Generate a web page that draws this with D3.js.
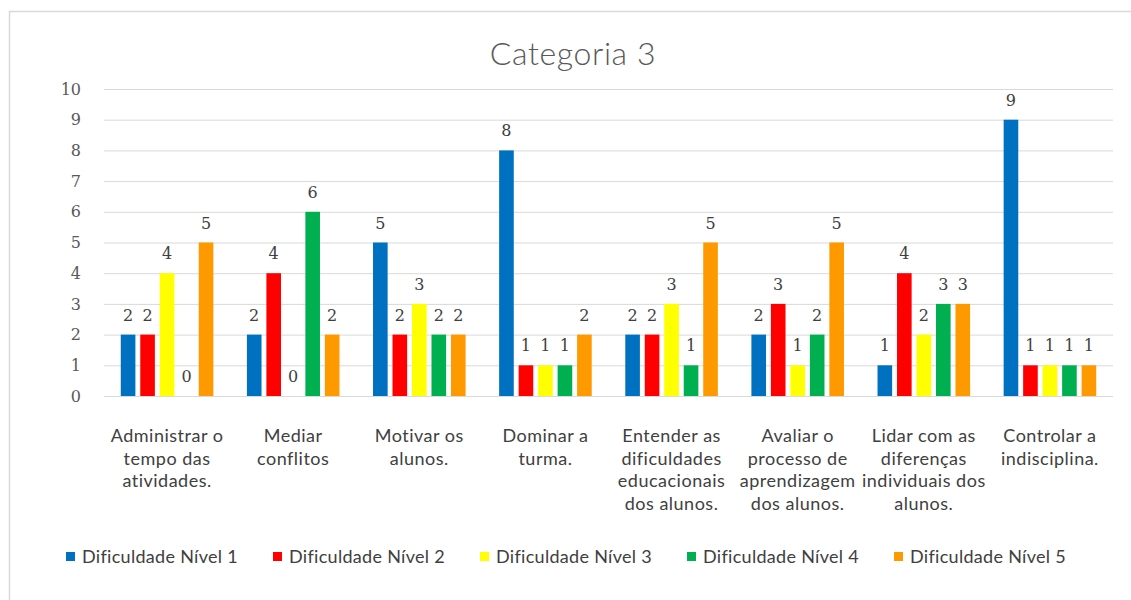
<!DOCTYPE html>
<html>
<head>
<meta charset="utf-8">
<script src="https://cdn.jsdelivr.net/npm/d3@7"></script>
<style>
  html, body { margin: 0; padding: 0; background: #ffffff; }
  svg { display: block; }
</style>
</head>
<body>
<svg id="chart" width="1131" height="600"></svg>
<script>
// Categories (line breaks as shown under the axis)
const categories = [
  "Administrar o|tempo das|atividades.",
  "Mediar|conflitos",
  "Motivar os|alunos.",
  "Dominar a|turma.",
  "Entender as|dificuldades|educacionais|dos alunos.",
  "Avaliar o|processo de|aprendizagem|dos alunos.",
  "Lidar com as|diferenças|individuais dos|alunos.",
  "Controlar a|indisciplina."
];

const seriesNames = [
  "Dificuldade Nível 1",
  "Dificuldade Nível 2",
  "Dificuldade Nível 3",
  "Dificuldade Nível 4",
  "Dificuldade Nível 5"
];

const nivel1 = [2, 2, 5, 8, 2, 2, 1, 9];
const nivel2 = [2, 4, 2, 1, 2, 3, 4, 1];
const nivel3 = [4, 0, 3, 1, 3, 1, 2, 1];
const nivel4 = [0, 6, 2, 1, 1, 2, 3, 1];
const nivel5 = [5, 2, 2, 2, 5, 5, 3, 1];

const seriesColors = ["#0070C0", "#FF0000", "#FFFF00", "#00B050", "#FF9900"];

const yTicks = [0, 1, 2, 3, 4, 5, 6, 7, 8, 9, 10];

const seriesValues = [nivel1, nivel2, nivel3, nivel4, nivel5];

const numberFont = "'DejaVu Serif', 'Liberation Serif', serif";
const textFont = "Lato, 'Open Sans', sans-serif";

const svg = d3.select("#chart");

// outer chart frame
svg.append("rect")
  .attr("x", 9.5).attr("y", 11.5)
  .attr("width", 1140).attr("height", 600)
  .attr("fill", "#ffffff")
  .attr("stroke", "#d9d9d9").attr("stroke-width", 1.5);

// title
svg.append("text")
  .attr("x", 573).attr("y", 65)
  .attr("text-anchor", "middle")
  .attr("font-family", textFont)
  .attr("font-weight", 300)
  .attr("font-size", 32)
  .attr("letter-spacing", 0.6)
  .attr("fill", "#595959")
  .text("Categoria 3");

const plotLeft = 104, plotRight = 1113, plotTop = 89, plotBottom = 396;

const x0 = d3.scaleBand().domain(d3.range(categories.length))
  .range([plotLeft, plotRight]).padding(0);
const groupW = x0.bandwidth();
const x1 = d3.scaleBand().domain(d3.range(seriesNames.length))
  .range([groupW * 0.133, groupW * 0.867]).paddingInner(0.25).paddingOuter(0);
const y = d3.scaleLinear().domain([0, 10]).range([plotBottom, plotTop]);

// gridlines + y labels via axis
const yAxis = d3.axisLeft(y).tickValues(yTicks).tickSize(-(plotRight - plotLeft)).tickPadding(23);
const gy = svg.append("g").attr("transform", `translate(${plotLeft},0)`).call(yAxis);
gy.attr("font-family", null).attr("font-size", null);
gy.select(".domain").remove();
gy.selectAll(".tick line").attr("stroke", "#d9d9d9").attr("stroke-width", 1);
gy.selectAll(".tick text")
  .style("font-family", numberFont)
  .style("font-size", "16px")
  .attr("fill", "#595959");

// bars
const groups = svg.append("g").selectAll("g")
  .data(categories)
  .join("g")
  .attr("transform", (d, i) => `translate(${x0(i)},0)`);

groups.each(function(cat, ci) {
  const g = d3.select(this);
  seriesValues.forEach((vals, si) => {
    const v = vals[ci];
    g.append("rect")
      .attr("x", x1(si))
      .attr("y", y(v))
      .attr("width", x1.bandwidth())
      .attr("height", y(0) - y(v))
      .attr("fill", seriesColors[si]);
    g.append("text")
      .attr("x", x1(si) + x1.bandwidth() / 2)
      .attr("y", y(v) - 14)
      .attr("text-anchor", "middle")
      .style("font-family", numberFont)
      .style("font-size", "16px")
      .attr("fill", "#404040")
      .text(v);
  });
});

// category labels
const catLabels = svg.append("g");
categories.forEach((c, i) => {
  const t = catLabels.append("text")
    .attr("text-anchor", "middle")
    .attr("font-family", textFont)
    .attr("font-size", 18)
    .attr("letter-spacing", 0.5)
    .attr("fill", "#404040");
  c.split("|").forEach((line, li) => {
    t.append("tspan")
      .attr("x", x0(i) + groupW / 2)
      .attr("y", 442 + li * 22.7)
      .text(line);
  });
});

// legend
const legend = svg.append("g");
let lx = 66;
seriesNames.forEach((name, i) => {
  legend.append("rect")
    .attr("x", lx).attr("y", 552)
    .attr("width", 9).attr("height", 9)
    .attr("fill", seriesColors[i]);
  legend.append("text")
    .attr("x", lx + 16).attr("y", 563)
    .attr("font-family", textFont)
    .attr("font-size", 18)
    .attr("letter-spacing", 0.3)
    .attr("fill", "#404040")
    .text(name);
  lx += 207;
});
</script>
</body>
</html>
